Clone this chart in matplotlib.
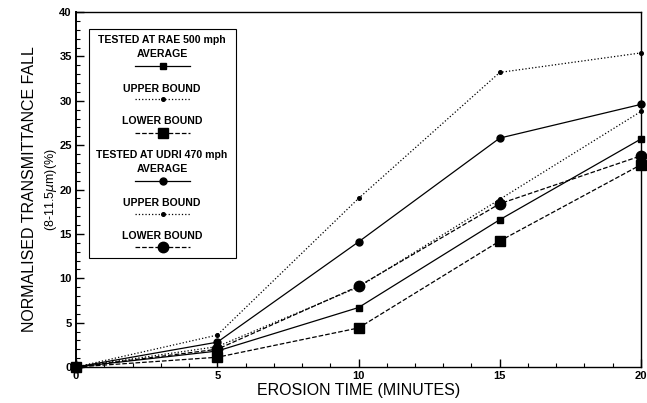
import matplotlib
matplotlib.use("Agg")
import matplotlib.pyplot as plt
from matplotlib.ticker import MultipleLocator

plt.rcParams['font.family'] = ['Liberation Sans', 'DejaVu Sans']

# Erosion time (minutes)
time_min = [0, 5, 10, 15, 20]

# Tested at RAE, 500 mph
rae_average = [0, 1.8, 6.7, 16.6, 25.7]
rae_upper = [0, 2.3, 9.0, 18.9, 28.8]
rae_lower = [0, 1.1, 4.4, 14.2, 22.8]

# Tested at UDRI, 470 mph
udri_average = [0, 2.8, 14.1, 25.8, 29.6]
udri_upper = [0, 3.6, 19.0, 33.2, 35.4]
udri_lower = [0, 2.0, 9.1, 18.4, 23.8]

x_ticks = [0, 5, 10, 15, 20]
y_ticks = [0, 5, 10, 15, 20, 25, 30, 35, 40]

styles = {
    'rae_average': dict(ls='-', marker='s', ms=4.3, lw=0.9),
    'rae_upper': dict(ls=':', marker='o', ms=2.6, lw=0.9),
    'rae_lower': dict(ls='--', marker='s', ms=6.5, lw=0.9),
    'udri_average': dict(ls='-', marker='o', ms=5.0, lw=0.9),
    'udri_upper': dict(ls=':', marker='o', ms=2.6, lw=0.9),
    'udri_lower': dict(ls='--', marker='o', ms=7.5, lw=0.9),
}

fig = plt.figure(figsize=(6.47, 4.03), dpi=100)
ax = fig.add_axes([0.1175, 0.0893, 0.8732, 0.8807])

series = [
    (rae_upper, 'rae_upper'),
    (rae_average, 'rae_average'),
    (rae_lower, 'rae_lower'),
    (udri_upper, 'udri_upper'),
    (udri_average, 'udri_average'),
    (udri_lower, 'udri_lower'),
]
for vals, key in series:
    ax.plot(time_min, vals, color='black', clip_on=False, **styles[key])

ax.set_xlim(0, 20)
ax.set_ylim(0, 40)
ax.set_xticks(x_ticks)
ax.set_yticks(y_ticks)
ax.xaxis.set_minor_locator(MultipleLocator(1))
ax.yaxis.set_minor_locator(MultipleLocator(1))
ax.tick_params(which='both', direction='in', top=False, right=False)
ax.tick_params(which='major', length=6, width=1.0, labelsize=8, pad=3)
ax.tick_params(which='minor', length=3, width=0.8)
for lab in ax.get_xticklabels() + ax.get_yticklabels():
    lab.set_fontweight('bold')
for side in ['left', 'bottom', 'top', 'right']:
    ax.spines[side].set_linewidth(1.0)
ax.spines['left'].set_linewidth(1.4)

ax.set_xlabel('EROSION TIME (MINUTES)', fontsize=11.5, labelpad=1)
fig.text(0.046, 0.53, 'NORMALISED TRANSMITTANCE FALL', rotation=90,
         ha='center', va='center', fontsize=11.5)
fig.text(0.079, 0.53, r'(8-11.5$\mu$m)(%)', rotation=90,
         ha='center', va='center', fontsize=9)

# Legend panel drawn in axes coordinates
def to_ax(px, py):
    x0, x1 = 76, 641
    y0, y1 = 367, 12
    return (px - x0) / (x1 - x0), (y0 - py) / (y0 - y1)

bx0, by0 = to_ax(89, 258)
bx1, by1 = to_ax(236, 29)
ax.add_patch(plt.Rectangle((bx0, by0), bx1 - bx0, by1 - by0, transform=ax.transAxes,
                           fill=True, facecolor='white', edgecolor='black', lw=0.8,
                           zorder=5))

entries = [
    ('TESTED AT RAE 500 mph', 40, None),
    ('AVERAGE', 54, ('rae_average', 66)),
    ('UPPER BOUND', 89, ('rae_upper', 99)),
    ('LOWER BOUND', 121, ('rae_lower', 133)),
    ('TESTED AT UDRI 470 mph', 155, None),
    ('AVERAGE', 169, ('udri_average', 181)),
    ('UPPER BOUND', 203, ('udri_upper', 214)),
    ('LOWER BOUND', 236, ('udri_lower', 247)),
]
cx = 162
for text, ty, sample in entries:
    tx, tyy = to_ax(cx, ty)
    ax.text(tx, tyy, text, transform=ax.transAxes, ha='center', va='center',
            fontsize=7.6, fontweight='bold', zorder=6)
    if sample is not None:
        key, sy = sample
        sx0, syy = to_ax(135, sy)
        sx1, _ = to_ax(190, sy)
        st = dict(styles[key])
        ms = st.pop('ms')
        mk = st.pop('marker')
        ax.plot([sx0, sx1], [syy, syy], transform=ax.transAxes, color='black',
                zorder=6, clip_on=False, **st)
        ax.plot([(sx0 + sx1) / 2], [syy], transform=ax.transAxes, color='black',
                marker=mk, ms=ms, ls='none', zorder=7, clip_on=False)

fig.savefig('out.png', dpi=100)
